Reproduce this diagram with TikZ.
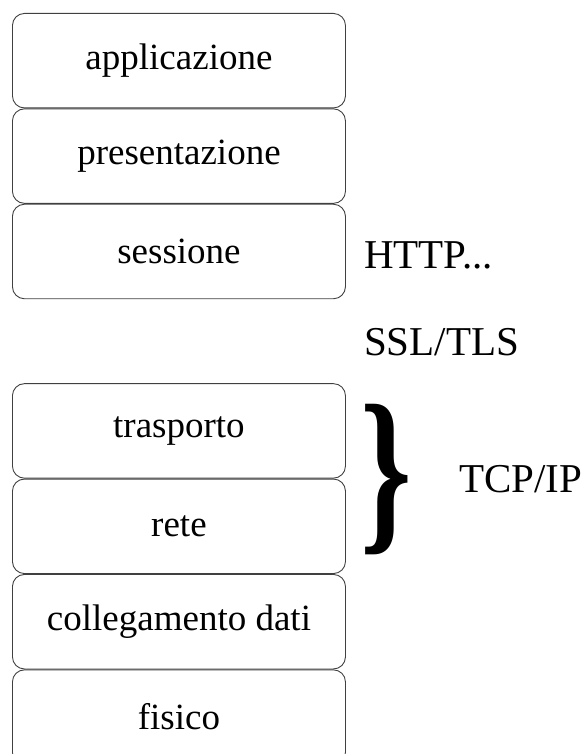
\documentclass[tikz,border=0pt]{standalone}
\usepackage{fontspec}
\setmainfont{Liberation Serif}
\usetikzlibrary{positioning}

\tikzset{layer/.style={draw=black!75, line width=0.9pt, rounded corners=12pt, minimum width=333pt, minimum height=94.5pt, inner sep=0pt, font=\fontsize{37}{44}\selectfont},
         proto/.style={anchor=base west, inner sep=0pt, font=\fontsize{41}{49}\selectfont}}

\begin{document}
\begin{tikzpicture}[x=1pt, y=-1pt]
    \useasboundingbox (0,0) rectangle (584,754);
    \clip (0,0) rectangle (584,754);

    % upper layers
    \node[layer, anchor=north west] (app) at (12,13) {applicazione};
    \node[layer, below=0pt of app] (pres) {presentazione};
    \node[layer, below=0pt of pres] (sess) {sessione};

    % lower layers
    \node[layer, below=84pt of sess] (trasp) {trasporto};
    \node[layer, below=0pt of trasp] (rete) {rete};
    \node[layer, below=0pt of rete] (coll) {collegamento dati};
    \node[layer, below=0pt of coll] (fis) {fisico};

    % protocols on the right
    \node[proto] (http) at ([xshift=18pt, yshift=-17pt]sess.east) {HTTP...};
    \node[proto] (ssl) at ([xshift=18pt, yshift=-56pt]sess.south east) {SSL/TLS};

    \node[inner sep=0pt, font=\fontsize{182}{182}\bfseries] (brace) at ([xshift=40pt, yshift=-1pt]trasp.south east) {\scalebox{0.72}[1]{\}}};
    \node[proto] (tcp) at ([xshift=113pt, yshift=-14pt]trasp.south east) {TCP/IP};
\end{tikzpicture}
\end{document}
